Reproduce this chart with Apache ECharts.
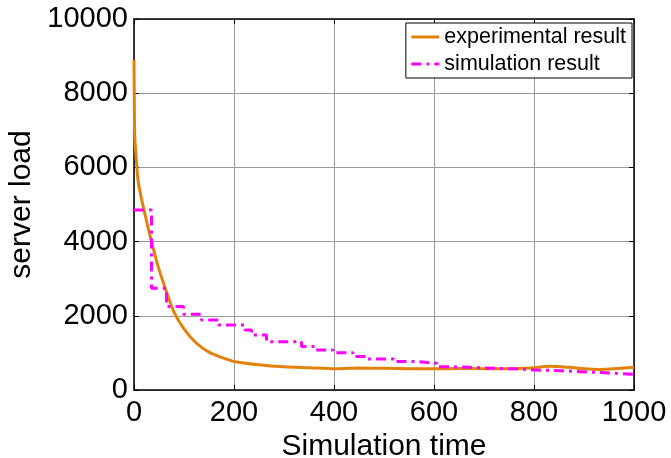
<!DOCTYPE html>
<html>
<head>
<meta charset="utf-8">
<script src="https://cdn.jsdelivr.net/npm/echarts@6/dist/echarts.min.js"></script>
<style>
  html, body { margin: 0; padding: 0; background: #fff; }
  #chart { width: 671px; height: 458px; }
</style>
</head>
<body>
<div id="chart"></div>
<script>
// experimental result: [time, server load]
const experimental = [
  [0, 8900], [1, 7200], [2, 6700], [5, 6150], [8, 5660], [12, 5350], [20, 4850],
  [35, 4000], [50, 3250], [65, 2650], [80, 2100], [100, 1650], [125, 1260],
  [150, 1020], [175, 880], [200, 770], [250, 680], [300, 625], [350, 600],
  [400, 575], [450, 590], [500, 585], [550, 575], [600, 570], [650, 580],
  [700, 575], [750, 570], [800, 600], [830, 640], [870, 610], [900, 570],
  [930, 555], [960, 570], [1000, 610]
];

// simulation result (step values)
const simulation = [
  [0, 4850], [35, 2740], [65, 2250], [99, 2040], [135, 1890], [169, 1750],
  [222, 1620], [235, 1480], [265, 1300], [335, 1170], [362, 1080], [398, 1005],
  [438, 900], [466, 835], [520, 765], [566, 720], [606, 630], [632, 610],
  [672, 570], [759, 540], [800, 520], [855, 470], [930, 425], [1000, 425]
];

const seriesNames = ['experimental result', 'simulation result'];

const font = "'Liberation Sans', Arial, sans-serif";
const chart = echarts.init(document.getElementById('chart'));

const tickStyle = { show: true, inside: true, length: 5, lineStyle: { color: '#000', width: 1 } };
const plain = v => String(v);

chart.setOption({
  animation: false,
  grid: { left: 134, right: 37, top: 19, bottom: 68, containLabel: false, outerBoundsMode: 'none' },
  legend: {
    data: seriesNames,
    orient: 'vertical',
    right: 39,
    top: 23,
    backgroundColor: '#fff',
    borderColor: '#000',
    borderWidth: 1,
    borderRadius: 0,
    padding: [3, 6, 3, 4],
    itemWidth: 28,
    itemHeight: 14,
    itemGap: 5,
    itemStyle: { opacity: 0 },
    lineStyle: { width: 3 },
    textStyle: { fontFamily: font, fontSize: 21.5, color: '#000' }
  },
  xAxis: [
    {
      type: 'value', min: 0, max: 1000, interval: 200,
      name: 'Simulation time', nameLocation: 'middle', nameGap: 23,
      nameTextStyle: { fontFamily: font, fontSize: 30, color: '#000' },
      axisLine: { show: true, lineStyle: { color: '#000', width: 1.5 } },
      axisTick: tickStyle,
      axisLabel: { fontFamily: font, fontSize: 29, color: '#000', margin: 8, formatter: plain },
      splitLine: { show: true, lineStyle: { color: '#9a9a9a', width: 1 } }
    },
    {
      type: 'value', position: 'top', min: 0, max: 1000, interval: 200,
      axisLine: { show: true, onZero: false, lineStyle: { color: '#000', width: 1.5 } },
      axisTick: tickStyle,
      axisLabel: { show: false },
      splitLine: { show: false }
    }
  ],
  yAxis: [
    {
      type: 'value', min: 0, max: 10000, interval: 2000,
      name: 'server load', nameLocation: 'middle', nameGap: 92,
      nameTextStyle: { fontFamily: font, fontSize: 30, color: '#000' },
      axisLine: { show: true, lineStyle: { color: '#000', width: 1.5 } },
      axisTick: tickStyle,
      axisLabel: { fontFamily: font, fontSize: 29, color: '#000', margin: 6, formatter: plain },
      splitLine: { show: true, lineStyle: { color: '#9a9a9a', width: 1 } }
    },
    {
      type: 'value', position: 'right', min: 0, max: 10000, interval: 2000,
      axisLine: { show: true, onZero: false, lineStyle: { color: '#000', width: 1.5 } },
      axisTick: tickStyle,
      axisLabel: { show: false },
      splitLine: { show: false }
    }
  ],
  series: [
    {
      name: seriesNames[0],
      type: 'line',
      data: experimental,
      showSymbol: false,
      symbol: 'none',
      smooth: 0.3,
      lineStyle: { color: '#e3820b', width: 3 },
      itemStyle: { color: '#e3820b' },
      z: 3
    },
    {
      name: seriesNames[1],
      type: 'line',
      data: simulation,
      step: 'end',
      showSymbol: false,
      symbol: 'none',
      lineStyle: { color: '#ff00ff', width: 3, type: [10, 5, 3, 5] },
      itemStyle: { color: '#ff00ff' },
      z: 4
    }
  ]
});
</script>
</body>
</html>
